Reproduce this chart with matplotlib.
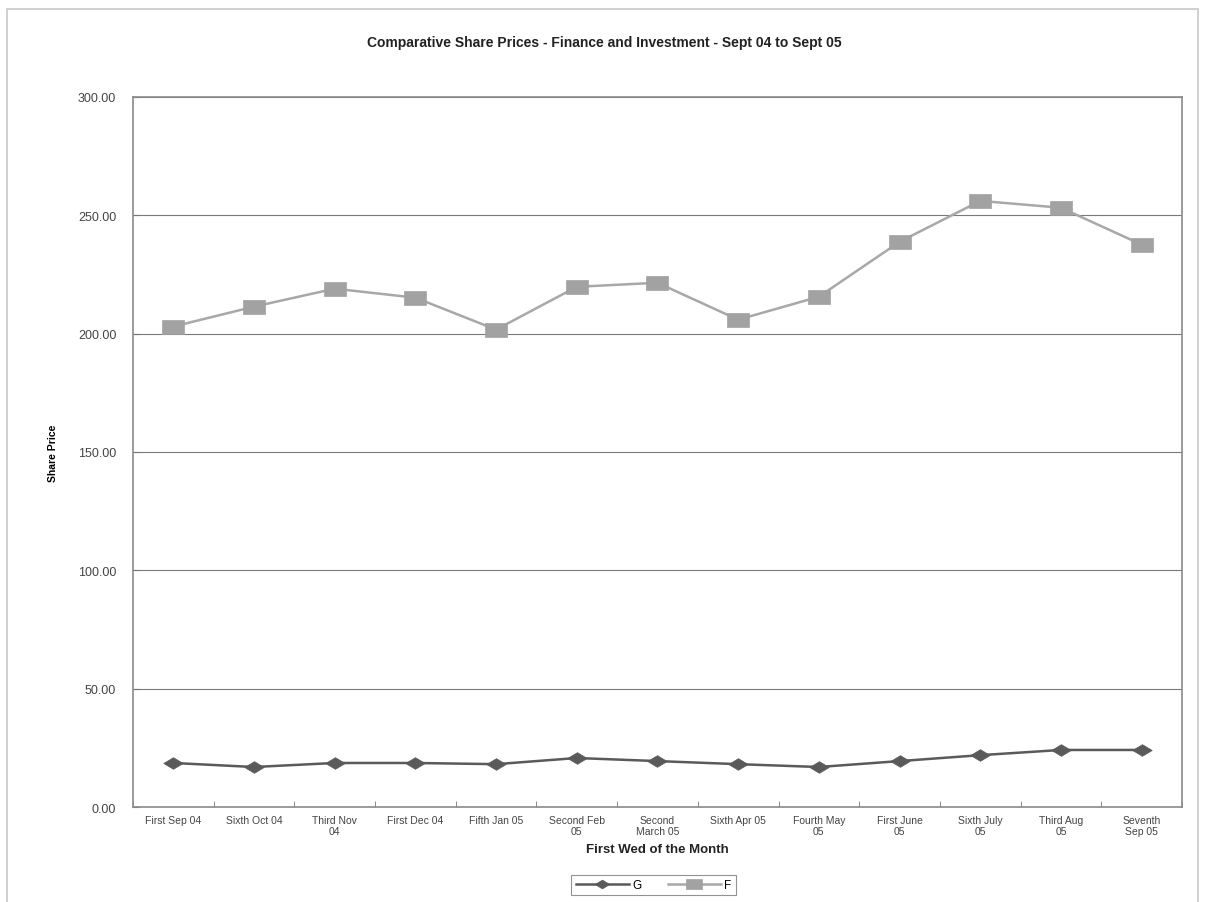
import matplotlib
matplotlib.use("Agg")
import matplotlib.pyplot as plt
from matplotlib.patches import Rectangle

plt.rcParams["font.family"] = ["Liberation Sans", "DejaVu Sans"]

# Sample dates (first Wednesday of each month) and share prices
months = ["First Sep 04", "Sixth Oct 04", "Third Nov\n04", "First Dec 04",
          "Fifth Jan 05", "Second Feb\n05", "Second\nMarch 05", "Sixth Apr 05",
          "Fourth May\n05", "First June\n05", "Sixth July\n05", "Third Aug\n05",
          "Seventh\nSep 05"]
price_g = [18.6, 16.9, 18.6, 18.6, 18.1, 20.7, 19.4, 18.1, 16.9, 19.4, 21.9, 24.1, 24.1]
price_f = [203.0, 211.4, 219.0, 215.2, 201.7, 219.8, 221.5, 205.9, 215.6, 238.8,
           256.1, 253.2, 237.6]
y_ticks = [0, 50, 100, 150, 200, 250, 300]

C_G = "#5a5a5a"
C_F = "#a8a8a8"
C_GRID = "#7a7a7a"
C_TEXT = "#444444"

# flattened marker shapes (wider than tall)
DIAMOND = [(-1, 0), (0, 0.6), (1, 0), (0, -0.6), (-1, 0)]
BOX = [(-1, -0.6), (1, -0.6), (1, 0.6), (-1, 0.6), (-1, -0.6)]

fig = plt.figure(figsize=(12.08, 9.03), dpi=100)
ax = fig.add_axes([0.110, 0.1052, 0.8685, 0.7863])

x = list(range(len(months)))
ax.plot(x, price_g, color=C_G, lw=1.8, marker=DIAMOND, ms=14, mfc=C_G, mec=C_G,
        mew=0.5, label="G")
ax.plot(x, price_f, color=C_F, lw=1.8, marker=BOX, ms=16, mfc="#a2a2a2",
        mec="#a2a2a2", mew=0.5, label="F")

ax.set_xlim(-0.5, len(months) - 0.5)
ax.set_ylim(0, 300)
ax.set_yticks(y_ticks)
ax.set_yticklabels([f"{v:.2f}" for v in y_ticks], fontsize=9, color=C_TEXT)
ax.set_xticks(x)
ax.set_xticklabels(months, fontsize=7.5, color=C_TEXT, linespacing=1.1)
ax.set_xticks([i - 0.5 for i in range(len(months) + 1)], minor=True)
ax.tick_params(axis="x", which="major", length=0, pad=6)
ax.tick_params(axis="x", which="minor", length=4, color="#777777", direction="in")
ax.tick_params(axis="y", length=4, color="#777777", direction="in", pad=12)

ax.yaxis.grid(True, color=C_GRID, lw=0.8)
ax.set_axisbelow(True)
for s in ax.spines.values():
    s.set_color("#8a8a8a")
    s.set_linewidth(1.2)

ax.set_ylabel("Share Price", fontsize=7.5, fontweight="bold", labelpad=14)
ax.set_xlabel("First Wed of the Month", fontsize=9.5, fontweight="bold",
              labelpad=5, color="#222222")
fig.text(0.5, 0.952, "Comparative Share Prices - Finance and Investment - Sept 04 to Sept 05",
         ha="center", va="center", fontsize=10, fontweight="bold", color="#222222")

leg = fig.legend(loc="center", bbox_to_anchor=(0.541, 0.0185), ncol=2, fontsize=8.5,
                 frameon=True, fancybox=False, edgecolor="#777777",
                 handlelength=4.5, columnspacing=2.2, borderpad=0.35,
                 handletextpad=0.3, markerscale=0.75)
leg.get_frame().set_linewidth(0.8)

# light frame around the whole chart
fig.patches.append(Rectangle((0.006, -0.01), 0.986, 0.999, transform=fig.transFigure,
                             fill=False, edgecolor="#c8c8c8", lw=1.2))

fig.savefig("out.png", dpi=100)
